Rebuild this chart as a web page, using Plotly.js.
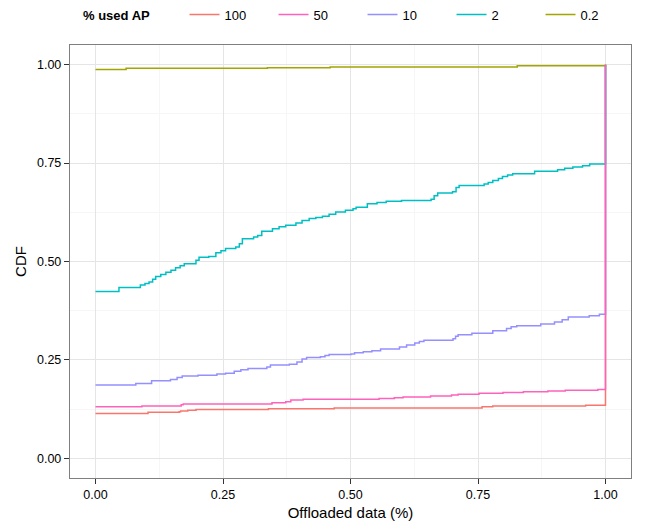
<!DOCTYPE html>
<html>
<head>
<meta charset="utf-8">
<script src="https://cdn.plot.ly/plotly-3.0.1.min.js"></script>
<style>html,body{margin:0;padding:0;background:#fff;}</style>
</head>
<body>
<div id="chart" style="width:652px;height:523px;"></div>
<script>
// Series names (legend order) and colours
const seriesNames = ["100", "50", "10", "2", "0.2"];
const seriesColors = ["#F8766D", "#FF62BC", "#9590FF", "#00BFC4", "#A3A500"];
const legendTitle = "% used AP";

// Step CDF curves: offloaded data fraction (x) and CDF value (y)
const ap100X = [0, 0.103, 0.164, 0.167, 0.181, 0.197, 0.339, 0.468, 0.758, 0.779, 0.961, 1];
const ap100Y = [0.114, 0.117, 0.118, 0.120, 0.122, 0.124, 0.126, 0.128, 0.131, 0.133, 0.135, 1];

const ap50X = [0, 0.091, 0.168, 0.172, 0.346, 0.373, 0.383, 0.407, 0.556, 0.586, 0.603, 0.657, 0.698, 0.711, 0.752, 0.799, 0.839, 0.887, 0.921, 0.985, 1];
const ap50Y = [0.131, 0.133, 0.136, 0.138, 0.141, 0.144, 0.148, 0.150, 0.152, 0.154, 0.156, 0.158, 0.161, 0.163, 0.165, 0.167, 0.169, 0.171, 0.173, 0.175, 1];

const ap10X = [0, 0.079, 0.110, 0.147, 0.160, 0.170, 0.201, 0.238, 0.255, 0.272, 0.285, 0.299, 0.336, 0.343, 0.380, 0.395, 0.405, 0.414, 0.441, 0.450, 0.458, 0.501, 0.508, 0.525, 0.542, 0.559, 0.596, 0.610, 0.626, 0.635, 0.644, 0.701, 0.706, 0.711, 0.738, 0.779, 0.806, 0.815, 0.826, 0.873, 0.900, 0.915, 0.927, 0.968, 0.988, 1];
const ap10Y = [0.186, 0.190, 0.197, 0.200, 0.205, 0.209, 0.211, 0.214, 0.216, 0.221, 0.225, 0.228, 0.232, 0.237, 0.239, 0.245, 0.252, 0.256, 0.258, 0.261, 0.264, 0.265, 0.268, 0.271, 0.273, 0.278, 0.283, 0.288, 0.293, 0.297, 0.300, 0.304, 0.310, 0.314, 0.318, 0.324, 0.330, 0.334, 0.337, 0.341, 0.346, 0.352, 0.359, 0.362, 0.366, 1];

const ap2X = [0, 0.046, 0.088, 0.097, 0.105, 0.112, 0.118, 0.128, 0.138, 0.148, 0.157, 0.166, 0.174, 0.197, 0.203, 0.222, 0.236, 0.246, 0.255, 0.275, 0.282, 0.288, 0.310, 0.318, 0.326, 0.347, 0.360, 0.373, 0.393, 0.405, 0.419, 0.432, 0.445, 0.458, 0.471, 0.490, 0.505, 0.511, 0.533, 0.552, 0.570, 0.600, 0.658, 0.664, 0.671, 0.700, 0.707, 0.713, 0.762, 0.770, 0.779, 0.790, 0.798, 0.808, 0.818, 0.861, 0.906, 0.920, 0.936, 0.955, 0.969, 1];
const ap2Y = [0.424, 0.434, 0.440, 0.444, 0.448, 0.455, 0.462, 0.467, 0.473, 0.478, 0.484, 0.489, 0.494, 0.503, 0.511, 0.513, 0.522, 0.527, 0.533, 0.537, 0.545, 0.558, 0.562, 0.566, 0.577, 0.583, 0.588, 0.592, 0.598, 0.604, 0.609, 0.612, 0.615, 0.620, 0.626, 0.630, 0.634, 0.638, 0.647, 0.650, 0.653, 0.655, 0.658, 0.667, 0.674, 0.677, 0.688, 0.693, 0.697, 0.701, 0.706, 0.711, 0.716, 0.720, 0.723, 0.729, 0.733, 0.737, 0.740, 0.743, 0.748, 1];

const ap02X = [0, 0.060, 0.337, 0.460, 0.827, 1];
const ap02Y = [0.988, 0.991, 0.992, 0.994, 0.997, 1];

// Axis ticks
const tickVals = [0, 0.25, 0.5, 0.75, 1];
const tickText = ["0.00", "0.25", "0.50", "0.75", "1.00"];

const seriesX = [ap100X, ap50X, ap10X, ap2X, ap02X];
const seriesY = [ap100Y, ap50Y, ap10Y, ap2Y, ap02Y];
// drawing order (50 on top, as in the reference)
const drawOrder = [0, 2, 3, 4, 1];

const traces = drawOrder.map(i => ({
  type: "scatter",
  mode: "lines",
  x: seriesX[i],
  y: seriesY[i],
  name: seriesNames[i],
  legendrank: i + 1,
  line: {color: seriesColors[i], width: 1.5, shape: "hv"},
  hoverinfo: "x+y+name"
}));

const font = {family: "Liberation Sans, Arial, Helvetica, sans-serif", color: "#000"};

const axisCommon = {
  range: [-0.05, 1.05],
  tickvals: tickVals,
  ticktext: tickText,
  ticks: "outside",
  ticklen: 5,
  tickwidth: 1,
  tickcolor: "#333",
  tickfont: Object.assign({size: 12.5}, font),
  showgrid: true,
  gridcolor: "#e5e5e5",
  gridwidth: 1,
  minor: {dtick: 0.125, tick0: 0.125, showgrid: true, gridcolor: "#f6f6f6", gridwidth: 1, ticks: ""},
  zeroline: false,
  showline: true,
  mirror: true,
  linecolor: "#7f7f7f",
  linewidth: 1.2,
  fixedrange: true
};

const layout = {
  width: 652,
  height: 523,
  margin: {l: 70, r: 21, t: 45, b: 45, autoexpand: false},
  paper_bgcolor: "#fff",
  plot_bgcolor: "#fff",
  font: font,
  showlegend: true,
  legend: {
    orientation: "h",
    xref: "container",
    yref: "container",
    x: 0.283,
    xanchor: "left",
    y: 0.972,
    yanchor: "middle",
    font: Object.assign({size: 13}, font),
    itemwidth: 30,
    entrywidth: 44,
    entrywidthmode: "pixels",
    traceorder: "normal"
  },
  annotations: [{
    text: "<b>" + legendTitle + "</b>",
    xref: "paper", yref: "paper",
    x: 0.02, xanchor: "left",
    y: 1.069, yanchor: "middle",
    showarrow: false,
    font: Object.assign({size: 13}, font)
  }],
  xaxis: Object.assign({}, axisCommon, {
    title: {text: "Offloaded data (%)", font: Object.assign({size: 15}, font), standoff: 6}
  }),
  yaxis: Object.assign({}, axisCommon, {
    title: {text: "CDF", font: Object.assign({size: 15}, font), standoff: 6}
  })
};

Plotly.newPlot("chart", traces, layout, {displayModeBar: false, staticPlot: true});
</script>
</body>
</html>
